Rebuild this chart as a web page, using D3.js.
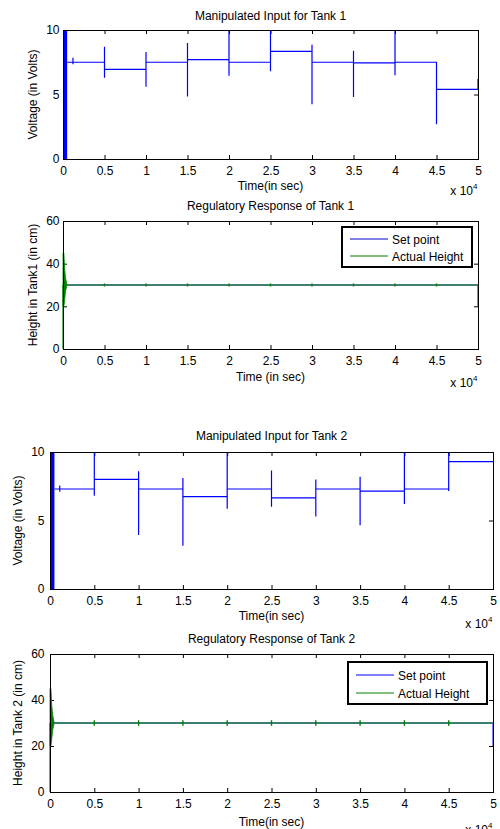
<!DOCTYPE html>
<html>
<head>
<meta charset="utf-8">
<script src="https://cdn.jsdelivr.net/npm/d3@7"></script>
<style>
  body { margin: 0; background: #fff; }
  svg { display: block; font-family: "Liberation Sans", Arial, sans-serif; }
  .tick text { font-size: 12px; fill: #000; }
</style>
</head>
<body>
<svg id="fig" width="500" height="829"></svg>
<script>
// time axis is in units of 10^4 s
var timeTicks = [0, 0.5, 1, 1.5, 2, 2.5, 3, 3.5, 4, 4.5, 5];
var voltTicks = [0, 5, 10];
var heightTicks = [0, 20, 40, 60];

// set point change instants (x 10^4 s)
var stepTimes = [0.5, 1, 1.5, 2, 2.5, 3, 3.5, 4, 4.5];

// Tank 1 manipulated input (Volts)
var tank1Levels = [7.5, 6.95, 7.5, 7.7, 7.5, 8.35, 7.5, 7.45, 7.5, 5.4];
var tank1SpikeHigh = [8.7, 8.3, 9.0, 10, 10, 8.85, 8.4, 10, 7.5];
var tank1SpikeLow = [6.3, 5.6, 4.85, 6.45, 6.8, 4.25, 4.8, 6.5, 2.7];
var tank1Early = {t: 0.12, hi: 7.85, lo: 7.35};
var tank1End = 6.2;

// Tank 2 manipulated input (Volts)
var tank2Levels = [7.3, 8.0, 7.3, 6.75, 7.3, 6.65, 7.3, 7.15, 7.3, 9.3];
var tank2SpikeHigh = [10, 8.6, 8.1, 10, 8.65, 8.0, 8.2, 10, 10];
var tank2SpikeLow = [6.8, 3.95, 3.15, 5.85, 6.0, 5.3, 4.65, 6.2, 7.15];
var tank2Early = {t: 0.11, hi: 7.55, lo: 7.1};
var tank2End = 9.3;

// start-up saturation band of the controller output
var bandEnd = 0.05;

// heights (cm)
var setPoint = 30;
var setPointEnd = 20;
var startTimes = [0, 0.01, 0.02, 0.03, 0.045];
var startHigh = [45, 45, 37.5, 33.5, 30.5];
var startLow = [20, 20, 23, 27, 29.5];
var tank1Dist = 0.7;
var tank2Dist = 1.2;

var svg = d3.select("#fig");

function frame(box, yTicks, yPad) {
    var g = svg.append("g");
    var x = d3.scaleLinear().domain([0, 5]).range([box.left, box.right]);
    var y = d3.scaleLinear().domain([yTicks[0], yTicks[yTicks.length - 1]]).range([box.bottom, box.top]);
    g.append("g").attr("transform", "translate(0," + box.bottom + ")")
        .call(d3.axisBottom(x).tickValues(timeTicks).tickSizeInner(-4).tickSizeOuter(0).tickPadding(7.5).tickFormat(d3.format("")));
    g.append("g").attr("transform", "translate(0," + box.top + ")")
        .call(d3.axisTop(x).tickValues(timeTicks).tickSizeInner(-4).tickSizeOuter(0).tickFormat(""));
    g.append("g").attr("transform", "translate(" + box.left + ",0)")
        .call(d3.axisLeft(y).tickValues(yTicks).tickSizeInner(-4).tickSizeOuter(0).tickPadding(yPad));
    g.append("g").attr("transform", "translate(" + box.right + ",0)")
        .call(d3.axisRight(y).tickValues(yTicks).tickSizeInner(-4).tickSizeOuter(0).tickFormat(""));
    g.selectAll(".domain").remove();
    g.selectAll(".tick line").attr("stroke", "#000");
    return {g: g, x: x, y: y};
}

function labels(box, o) {
    var mid = (box.left + box.right) / 2;
    svg.append("text").attr("x", mid).attr("y", o.titleY).attr("text-anchor", "middle")
        .attr("font-size", 12).text(o.title);
    svg.append("text").attr("x", mid).attr("y", o.xLabelY).attr("text-anchor", "middle")
        .attr("font-size", 12).text(o.xLabel);
    svg.append("text").attr("transform", "translate(" + o.yLabelX + "," + (box.top + box.bottom) / 2 + ") rotate(-90)")
        .attr("text-anchor", "middle").attr("font-size", 12).text(o.yLabel);
    var ex = svg.append("text").attr("x", box.right - 5).attr("y", o.expY).attr("text-anchor", "end").attr("font-size", 12);
    ex.text("x 10");
    svg.append("text").attr("x", box.right - 5).attr("y", o.expY - 6).attr("font-size", 8).text("4");
}

function drawBorder(g, box) {
    g.append("rect").attr("x", box.left).attr("y", box.top)
        .attr("width", box.right - box.left).attr("height", box.bottom - box.top)
        .attr("fill", "none").attr("stroke", "#000").attr("shape-rendering", "crispEdges");
}

function voltagePlot(box, o) {
    var f = frame(box, voltTicks, o.yPad);
    var x = f.x, y = f.y;
    var clip = f.g.append("g");
    // saturation band
    clip.append("rect").attr("x", x(0)).attr("y", y(10))
        .attr("width", x(bandEnd) - x(0)).attr("height", y(0) - y(10)).attr("fill", "#0000ff");
    var pts = [[bandEnd, o.levels[0]], [o.early.t, o.levels[0]], [o.early.t, o.early.hi],
        [o.early.t, o.early.lo], [o.early.t, o.levels[0]]];
    stepTimes.forEach(function (t, i) {
        pts.push([t, o.levels[i]], [t, o.high[i]], [t, o.low[i]], [t, o.levels[i + 1]]);
    });
    pts.push([5, o.levels[o.levels.length - 1]], [5, o.end]);
    clip.append("path").datum(pts)
        .attr("d", d3.line().x(function (d) { return x(d[0]); }).y(function (d) { return y(d[1]); }))
        .attr("fill", "none").attr("stroke", "#0000ff").attr("stroke-width", 1.2);
    drawBorder(f.g, box);
    labels(box, o);
}

function heightPlot(box, o) {
    var f = frame(box, heightTicks, o.yPad);
    var x = f.x, y = f.y;
    var line = d3.line().x(function (d) { return x(d[0]); }).y(function (d) { return y(d[1]); });
    f.g.append("path").datum([[0, setPoint], [5, setPoint], [5, setPointEnd]])
        .attr("d", line).attr("fill", "none").attr("stroke", o.spColor).attr("stroke-width", o.spWidth);
    var green = "#008000";
    f.g.append("path").datum([[0, 0], [0, setPoint]]).attr("d", line)
        .attr("fill", "none").attr("stroke", green).attr("stroke-width", 1.2);
    f.g.append("path").datum(startTimes.map(function (t, i) { return [t, startHigh[i], startLow[i]]; }))
        .attr("d", d3.area().x(function (d) { return x(d[0]); })
            .y0(function (d) { return y(d[2]); }).y1(function (d) { return y(d[1]); }))
        .attr("fill", green).attr("stroke", green).attr("stroke-width", 0.8);
    f.g.append("path").datum([[startTimes[startTimes.length - 1], setPoint], [5, setPoint]]).attr("d", line)
        .attr("fill", "none").attr("stroke", green).attr("stroke-width", o.greenWidth).attr("opacity", o.greenOpacity);
    stepTimes.forEach(function (t) {
        f.g.append("path").datum([[t, setPoint - o.dist], [t, setPoint + o.dist]]).attr("d", line)
            .attr("stroke", green).attr("stroke-width", 1.4);
    });
    drawBorder(f.g, box);
    // legend
    var L = o.legend;
    var lg = svg.append("g");
    lg.append("rect").attr("x", L.x).attr("y", L.y).attr("width", L.w).attr("height", L.h)
        .attr("fill", "#fff").attr("stroke", "#000").attr("stroke-width", 1.2).attr("shape-rendering", "crispEdges");
    var rows = [{name: "Set point", color: o.spColor, w: o.spWidth}, {name: "Actual Height", color: green, w: 1}];
    rows.forEach(function (r, i) {
        var cy = L.y + L.rowY[i];
        lg.append("line").attr("x1", L.x + 8).attr("x2", L.x + 46).attr("y1", cy).attr("y2", cy)
            .attr("stroke", r.color).attr("stroke-width", r.w);
        lg.append("text").attr("x", L.x + 50).attr("y", cy + 4.5).attr("font-size", 12).text(r.name);
    });
    labels(box, o);
}

voltagePlot({left: 63, top: 30, right: 478, bottom: 159}, {
    levels: tank1Levels, high: tank1SpikeHigh, low: tank1SpikeLow, early: tank1Early, end: tank1End,
    yPad: 3.5, title: "Manipulated Input for Tank 1", titleY: 20,
    xLabel: "Time(in sec)", xLabelY: 190, yLabel: "Voltage (in Volts)", yLabelX: 37, expY: 195
});

heightPlot({left: 63, top: 221, right: 478, bottom: 349}, {
    spColor: "#0000cc", spWidth: 1, greenWidth: 1.2, greenOpacity: 1, dist: tank1Dist,
    legend: {x: 342, y: 227, w: 130, h: 40, rowY: [12, 29]},
    yPad: 3.5, title: "Regulatory Response of Tank 1", titleY: 210,
    xLabel: "Time (in sec)", xLabelY: 381, yLabel: "Height in Tank1 (in cm)", yLabelX: 37, expY: 387
});

voltagePlot({left: 50, top: 452, right: 493, bottom: 589}, {
    levels: tank2Levels, high: tank2SpikeHigh, low: tank2SpikeLow, early: tank2Early, end: tank2End,
    yPad: 5.5, title: "Manipulated Input for Tank 2", titleY: 440,
    xLabel: "Time(in sec)", xLabelY: 620, yLabel: "Voltage (in Volts)", yLabelX: 22, expY: 628
});

heightPlot({left: 50, top: 654, right: 493, bottom: 792}, {
    spColor: "#7f7fff", spWidth: 2, greenWidth: 2, greenOpacity: 0.55, dist: tank2Dist,
    legend: {x: 348, y: 662, w: 139, h: 42, rowY: [13, 31]},
    yPad: 5.5, title: "Regulatory Response of Tank 2", titleY: 643,
    xLabel: "Time(in sec)", xLabelY: 826, yLabel: "Height in Tank 2 (in cm)", yLabelX: 22, expY: 834
});
</script>
</body>
</html>
